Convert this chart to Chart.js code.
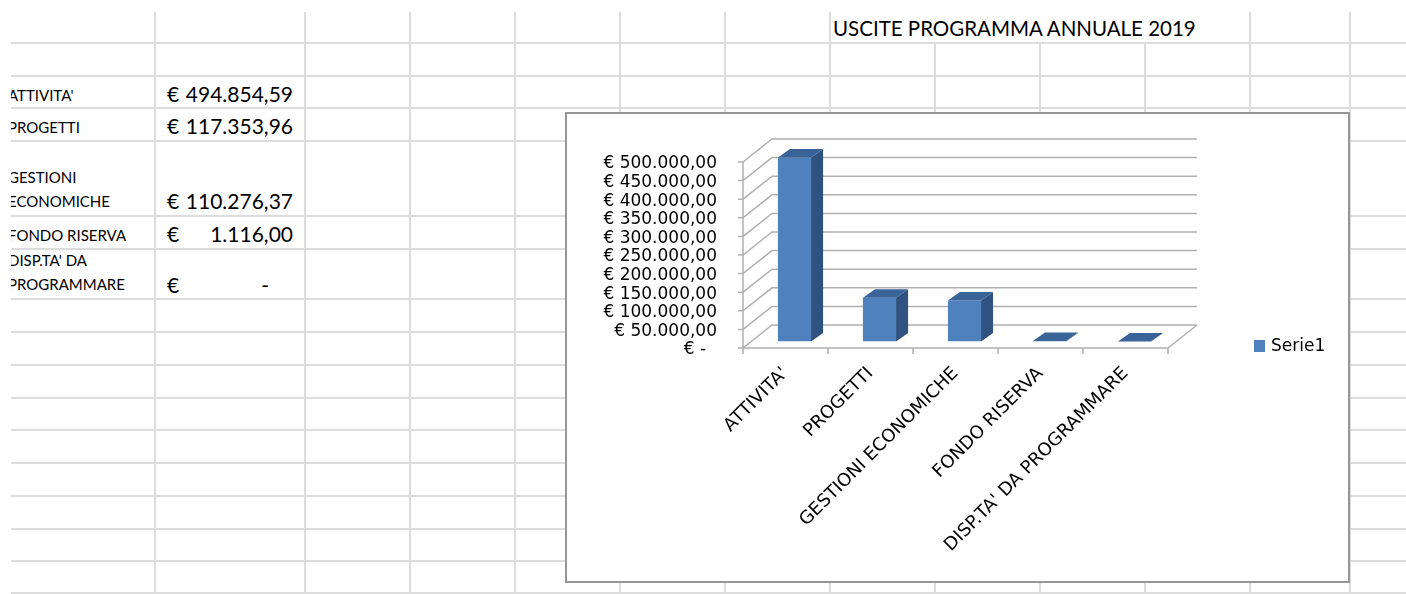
<!DOCTYPE html>
<html>
<head>
<meta charset="utf-8">
<script src="https://cdn.jsdelivr.net/npm/chart.js@4.4.1/dist/chart.umd.min.js"></script>
<style>
  body { margin: 0; background: #fff; width: 1406px; height: 594px; overflow: hidden; position: relative; font-family: Lato, sans-serif; }
  #sheet { position: absolute; left: 11px; top: 0; width: 1395px; height: 594px; overflow: hidden; }
  .gl { position: absolute; background: #dcdcdc; }
  .txt { position: absolute; white-space: nowrap; color: #000; }
  #chartBox { position: absolute; left: 565px; top: 112px; width: 785px; height: 471px; box-sizing: border-box; border: 2px solid #969696; background: #fff; }
  #chartBox canvas { position: absolute; left: 0; top: 0; }
</style>
</head>
<body>
<div id="sheet"></div>
<div id="chartBox"><canvas id="usciteChart" width="781" height="467"></canvas></div>
<script>
/**************** Data ****************/
const title = "USCITE PROGRAMMA ANNUALE 2019";
const categories = ["ATTIVITA'", "PROGETTI", "GESTIONI ECONOMICHE", "FONDO RISERVA", "DISP.TA' DA PROGRAMMARE"];
const values = [494854.59, 117353.96, 110276.37, 1116.0, 0];
const seriesName = "Serie1";
const yTicks = [0, 50000, 100000, 150000, 200000, 250000, 300000, 350000, 400000, 450000, 500000];
// labels as wrapped in the spreadsheet cells
const cellLabels = [["ATTIVITA'"], ["PROGETTI"], ["GESTIONI", "ECONOMICHE"], ["FONDO RISERVA"], ["DISP.TA' DA", "PROGRAMMARE"]];

/**************** Spreadsheet ****************/
const colX = [155, 305, 410, 515, 620, 725, 830, 935, 1040, 1145, 1250, 1350];
const rowY = [43, 76, 108, 141, 216, 249, 299, 332, 365, 398, 430, 463, 496, 529, 561, 593];
const hiddenByTitle = [935, 1040, 1145];

const sheet = document.getElementById("sheet");

function addLine(x, y, w, h) {
  const d = document.createElement("div");
  d.className = "gl";
  d.style.left = x - 11 + "px";
  d.style.top = y + "px";
  d.style.width = w + "px";
  d.style.height = h + "px";
  sheet.appendChild(d);
}

function addText(str, x, cy, size, alignRight) {
  const d = document.createElement("div");
  d.className = "txt";
  d.textContent = str;
  d.style.fontSize = size + "px";
  d.style.lineHeight = size + "px";
  d.style.top = cy - 0.53 * size + "px";
  d.style.left = x - 11 + "px";
  if (alignRight) d.style.transform = "translateX(-100%)";
  sheet.appendChild(d);
}

rowY.forEach((y) => addLine(11, y - 1, 1395, 2));
colX.forEach((x) => {
  const top = hiddenByTitle.includes(x) ? 43 : 12;
  addLine(x - 1, top, 2, 594 - top);
});

function formatEuro(v) {
  const [intPart, dec] = v.toFixed(2).split(".");
  return intPart.replace(/\B(?=(\d{3})+(?!\d))/g, ".") + "," + dec;
}

addText(title, 833, 29, 20.5);

const labelRows = [[95.5], [127.5], [177.5, 201.7], [235.8], [260.8, 285.2]];
const valueRows = [94, 126, 201, 234, 285];
cellLabels.forEach((lines, i) => {
  lines.forEach((line, j) => addText(line, 8, labelRows[i][j], 15));
  addText("€", 167, valueRows[i], 21);
  if (values[i] === 0) addText("-", 269, valueRows[i], 21, true);
  else addText(formatEuro(values[i]), 293, valueRows[i], 21, true);
});

/**************** Chart ****************/
const DEPTH_X = 29, DEPTH_Y = -23;       // wall depth
const BAR_SHIFT_X = 9, BAR_SHIFT_Y = -6.5; // bars sit mid depth
const BAR_DX = 12, BAR_DY = -8.5;         // bar thickness

const walls3d = {
  id: "walls3d",
  beforeDatasetsDraw(chart) {
    const { ctx, chartArea: a, scales: { x, y } } = chart;
    ctx.save();
    ctx.strokeStyle = "#b0b0b0";
    ctx.lineWidth = 1.5;
    ctx.beginPath();
    y.ticks.forEach((t) => {
      const py = y.getPixelForValue(t.value);
      ctx.moveTo(a.left - 5, py);
      ctx.lineTo(a.left, py);
      ctx.lineTo(a.left + DEPTH_X, py + DEPTH_Y);
      ctx.lineTo(a.right + DEPTH_X, py + DEPTH_Y);
    });
    ctx.moveTo(a.left, a.top);
    ctx.lineTo(a.left, a.bottom);
    ctx.lineTo(a.right, a.bottom);
    ctx.lineTo(a.right + DEPTH_X, a.bottom + DEPTH_Y);
    for (let i = 0; i <= categories.length; i++) {
      const px = x.getPixelForValue(i - 0.5);
      ctx.moveTo(px, a.bottom);
      ctx.lineTo(px, a.bottom + 6);
    }
    ctx.stroke();
    ctx.restore();

    ctx.save();
    ctx.translate(BAR_SHIFT_X, BAR_SHIFT_Y);
  },
  afterDatasetsDraw(chart) {
    const { ctx } = chart;
    chart.getDatasetMeta(0).data.forEach((bar) => {
      const l = bar.x - bar.width / 2, r = bar.x + bar.width / 2;
      const top = bar.y, base = bar.base;
      ctx.fillStyle = "#2f5280";
      ctx.beginPath();
      ctx.moveTo(r, top);
      ctx.lineTo(r + BAR_DX, top + BAR_DY);
      ctx.lineTo(r + BAR_DX, base + BAR_DY);
      ctx.lineTo(r, base);
      ctx.closePath();
      ctx.fill();
      ctx.fillStyle = "#3a6397";
      ctx.beginPath();
      ctx.moveTo(l, top);
      ctx.lineTo(r, top);
      ctx.lineTo(r + BAR_DX, top + BAR_DY);
      ctx.lineTo(l + BAR_DX, top + BAR_DY);
      ctx.closePath();
      ctx.fill();
    });
    ctx.restore();
  },
  afterDraw(chart) {
    const { ctx } = chart;
    ctx.save();
    ctx.fillStyle = "#4F81BD";
    ctx.fillRect(687, 226, 11, 12);
    ctx.fillStyle = "#000";
    ctx.font = "17px 'DejaVu Sans'";
    ctx.textBaseline = "middle";
    ctx.fillText(seriesName, 704, 233);
    ctx.restore();
  },
};

new Chart(document.getElementById("usciteChart"), {
  type: "bar",
  data: {
    labels: categories,
    datasets: [
      {
        label: seriesName,
        data: values,
        backgroundColor: "#4F81BD",
        borderWidth: 0,
        barPercentage: 0.39,
        categoryPercentage: 1,
      },
    ],
  },
  plugins: [walls3d],
  options: {
    responsive: false,
    animation: false,
    layout: { padding: { left: 0, top: 48, right: 180, bottom: 0 } },
    plugins: {
      legend: { display: false },
      tooltip: { enabled: false },
    },
    scales: {
      x: {
        offset: true,
        grid: { display: false, drawTicks: false },
        border: { display: false },
        ticks: {
          color: "#000",
          font: { family: "DejaVu Sans", size: 18 },
          minRotation: 45,
          maxRotation: 45,
          autoSkip: false,
          padding: 15,
        },
        afterFit: (scale) => {
          scale.height = 233;
        },
      },
      y: {
        min: 0,
        max: 500000,
        grid: { display: false, drawTicks: false },
        border: { display: false },
        afterBuildTicks: (scale) => {
          scale.ticks = yTicks.map((v) => ({ value: v }));
        },
        ticks: {
          color: "#000",
          font: { family: "DejaVu Sans", size: 17 },
          autoSkip: false,
          padding: 26,
          labelOffset: 2,
          callback: (value) => (value === 0 ? "€ -  " : "€ " + formatEuro(value)),
        },
        afterFit: (scale) => {
          scale.width = 176;
        },
      },
    },
  },
});
</script>
</body>
</html>
